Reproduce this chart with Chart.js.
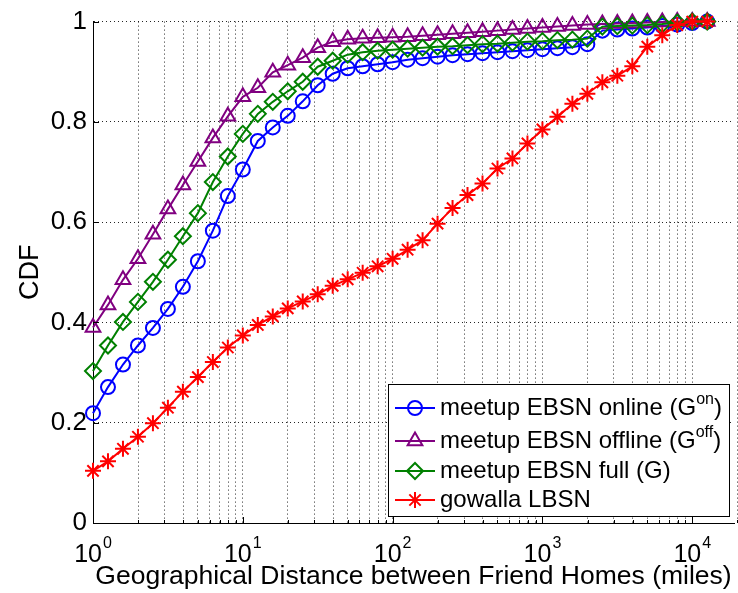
<!DOCTYPE html>
<html>
<head>
<meta charset="utf-8">
<script src="https://cdn.jsdelivr.net/npm/chart.js@4.4.0/dist/chart.umd.min.js"></script>
<style>
  body { margin: 0; background: #fff; }
  #wrap { width: 738px; height: 593px; }
</style>
</head>
<body>
<div id="wrap"><canvas id="cdfChart" width="738" height="593"></canvas></div>
<script>
// Distancias (millas) de cada marcador
const distances = [1, 1.259, 1.585, 1.995, 2.512, 3.162, 3.981, 5.012, 6.31, 7.943,
  10, 12.59, 15.85, 19.95, 25.12, 31.62, 39.81, 50.12, 63.1, 79.43,
  100, 125.9, 158.5, 199.5, 251.2, 316.2, 398.1, 501.2, 631, 794.3,
  1000, 1259, 1585, 1995, 2512, 3162, 3981, 5012, 6310, 7943, 10000, 12589];

// CDF de cada red
const onlineCdf = [0.219, 0.271, 0.316, 0.354, 0.389, 0.427, 0.471, 0.522, 0.583, 0.652,
  0.705, 0.762, 0.789, 0.812, 0.841, 0.873, 0.896, 0.907, 0.911, 0.915,
  0.919, 0.924, 0.927, 0.930, 0.933, 0.935, 0.937, 0.939, 0.941, 0.943,
  0.945, 0.947, 0.949, 0.955, 0.982, 0.984, 0.986, 0.988, 0.991, 0.994, 0.997, 1.0];
const offlineCdf = [0.39, 0.435, 0.485, 0.527, 0.576, 0.626, 0.674, 0.721, 0.768, 0.811,
  0.85, 0.868, 0.899, 0.913, 0.928, 0.948, 0.960, 0.965, 0.967, 0.968,
  0.969, 0.970, 0.972, 0.974, 0.976, 0.978, 0.980, 0.982, 0.984, 0.986,
  0.988, 0.990, 0.992, 0.994, 0.995, 0.996, 0.997, 0.998, 0.999, 1.0, 1.0, 1.0];
const fullCdf = [0.303, 0.354, 0.401, 0.441, 0.481, 0.525, 0.572, 0.618, 0.68, 0.731,
  0.776, 0.816, 0.84, 0.861, 0.88, 0.91, 0.922, 0.934, 0.939, 0.942,
  0.944, 0.946, 0.948, 0.950, 0.951, 0.953, 0.955, 0.956, 0.958, 0.960,
  0.961, 0.963, 0.964, 0.966, 0.990, 0.991, 0.992, 0.993, 0.995, 0.998, 1.0, 1.0];
const gowallaCdf = [0.104, 0.123, 0.148, 0.172, 0.199, 0.23, 0.262, 0.291, 0.321, 0.35,
  0.374, 0.395, 0.412, 0.428, 0.442, 0.456, 0.473, 0.486, 0.499, 0.512,
  0.527, 0.545, 0.564, 0.597, 0.628, 0.654, 0.677, 0.707, 0.727, 0.757,
  0.785, 0.81, 0.836, 0.856, 0.879, 0.892, 0.911, 0.95, 0.973, 0.993, 1.0, 1.0];

// Ejes
const yTicks = [0, 0.2, 0.4, 0.6, 0.8, 1];
const xDecades = [1, 10, 100, 1000, 10000];
const xExponents = ['0', '1', '2', '3', '4'];
const minorSteps = [1, 2, 3, 4, 5, 6, 7, 8, 9];

// Leyenda
const seriesNames = ['meetup EBSN online (G', 'meetup EBSN offline (G', 'meetup EBSN full (G)', 'gowalla LBSN'];
const seriesSups = ['on', 'off', '', ''];
const seriesTails = [')', ')', '', ''];

const FONT = "'Liberation Sans', Arial, Helvetica, sans-serif";
const colors = ['#0000ff', '#800080', '#008000', '#ff0000'];
const styles = ['circle', 'triangle', 'rectRot', 'star'];
const radii = [7, 8.5, 8, 8];

const toPoints = ys => ys.map((y, i) => ({ x: distances[i], y: y }));
const gridValues = [];
xDecades.forEach(d => minorSteps.forEach(m => gridValues.push(d * m)));

function makeDataset(i, values) {
    return {
        label: seriesNames[i],
        data: toPoints(values),
        borderColor: colors[i],
        backgroundColor: colors[i],
        borderWidth: 2,
        pointStyle: styles[i],
        pointRadius: radii[i],
        pointBorderWidth: 2,
        pointBorderColor: colors[i],
        pointBackgroundColor: 'rgba(0,0,0,0)',
        tension: 0,
        clip: false,
        order: 4 - i
    };
}

// Marcador para la leyenda
function drawMarker(ctx, style, cx, cy, r) {
    ctx.beginPath();
    if (style === 'circle') {
        ctx.arc(cx, cy, r, 0, Math.PI * 2);
    } else if (style === 'triangle') {
        ctx.moveTo(cx, cy - r);
        ctx.lineTo(cx + r * 0.866, cy + r / 2);
        ctx.lineTo(cx - r * 0.866, cy + r / 2);
        ctx.closePath();
    } else if (style === 'rectRot') {
        ctx.moveTo(cx - r, cy);
        ctx.lineTo(cx, cy - r);
        ctx.lineTo(cx + r, cy);
        ctx.lineTo(cx, cy + r);
        ctx.closePath();
    } else {
        for (let a = 0; a < 4; a++) {
            const ang = a * Math.PI / 4;
            ctx.moveTo(cx - Math.cos(ang) * r, cy - Math.sin(ang) * r);
            ctx.lineTo(cx + Math.cos(ang) * r, cy + Math.sin(ang) * r);
        }
    }
    ctx.stroke();
}

const cdfDecor = {
    id: 'cdfDecor',
    afterDraw(chart) {
        const { ctx, chartArea: ca, scales: { x, y } } = chart;
        ctx.save();

        // Marcas hacia dentro
        ctx.strokeStyle = '#000';
        ctx.lineWidth = 1;
        ctx.beginPath();
        gridValues.forEach(v => {
            const px = Math.round(x.getPixelForValue(v)) + 0.5;
            const len = xDecades.includes(v) ? 6 : 3;
            ctx.moveTo(px, ca.bottom);
            ctx.lineTo(px, ca.bottom - len);
        });
        yTicks.forEach(v => {
            const py = Math.round(y.getPixelForValue(v)) + 0.5;
            ctx.moveTo(ca.left, py);
            ctx.lineTo(ca.left + 6, py);
        });
        ctx.stroke();

        // Etiquetas 10^n
        ctx.fillStyle = '#000';
        ctx.textAlign = 'left';
        ctx.textBaseline = 'alphabetic';
        xDecades.forEach((v, i) => {
            const px = x.getPixelForValue(v);
            ctx.font = '25px ' + FONT;
            const w1 = ctx.measureText('10').width;
            ctx.font = '16px ' + FONT;
            const w2 = ctx.measureText(xExponents[i]).width;
            const left = px - (w1 + w2 + 1) / 2;
            ctx.font = '25px ' + FONT;
            ctx.fillText('10', left, ca.bottom + 39);
            ctx.font = '16px ' + FONT;
            ctx.fillText(xExponents[i], left + w1 + 1, ca.bottom + 25);
        });

        // Leyenda
        const bx = ca.right - 346, by = ca.bottom - 139, bw = 341, bh = 132;
        ctx.fillStyle = '#fff';
        ctx.fillRect(bx, by, bw, bh);
        ctx.strokeStyle = '#000';
        ctx.lineWidth = 1;
        ctx.strokeRect(bx + 0.5, by + 0.5, bw, bh);
        const baselines = [31, 64, 94, 123];
        seriesNames.forEach((name, i) => {
            const base = by + baselines[i];
            const ly = base - 7;
            ctx.strokeStyle = colors[i];
            ctx.lineWidth = 2;
            ctx.beginPath();
            ctx.moveTo(bx + 7, ly);
            ctx.lineTo(bx + 47, ly);
            ctx.stroke();
            drawMarker(ctx, styles[i], bx + 27, ly, radii[i]);

            ctx.fillStyle = '#000';
            ctx.font = '24px ' + FONT;
            let tx = bx + 52;
            ctx.fillText(name, tx, base);
            tx += ctx.measureText(name).width;
            if (seriesSups[i]) {
                ctx.font = '16px ' + FONT;
                ctx.fillText(seriesSups[i], tx, base - 11);
                tx += ctx.measureText(seriesSups[i]).width;
                ctx.font = '24px ' + FONT;
                ctx.fillText(seriesTails[i], tx, base);
            }
        });
        ctx.restore();
    }
};

const ctx = document.getElementById('cdfChart').getContext('2d');
const cdfChart = new Chart(ctx, {
    type: 'line',
    data: {
        datasets: [
            makeDataset(0, onlineCdf),
            makeDataset(1, offlineCdf),
            makeDataset(2, fullCdf),
            makeDataset(3, gowallaCdf)
        ]
    },
    options: {
        responsive: false,
        animation: false,
        layout: { autoPadding: false, padding: { top: 18, right: 4, left: 0, bottom: 0 } },
        plugins: {
            legend: { display: false },
            tooltip: { enabled: false }
        },
        scales: {
            x: {
                type: 'logarithmic',
                min: 1,
                max: 19000,
                afterBuildTicks: s => { s.ticks = gridValues.map(v => ({ value: v })); },
                afterFit: s => { s.height = 70; },
                ticks: { display: false },
                grid: { color: 'rgba(0,0,0,0.85)', lineWidth: 1, drawTicks: false },
                border: { display: true, color: '#000', width: 1, dash: [1, 3] },
                title: {
                    display: true,
                    text: 'Geographical Distance between Friend Homes (miles)',
                    color: '#000',
                    font: { family: FONT, size: 26.5 },
                    padding: { top: 0, bottom: 0 }
                }
            },
            y: {
                min: 0,
                max: 1,
                afterBuildTicks: s => { s.ticks = yTicks.map(v => ({ value: v })); },
                afterFit: s => { s.width = 93; },
                ticks: {
                    color: '#000',
                    font: { family: FONT, size: 26 },
                    padding: 6,
                    callback: v => String(v)
                },
                grid: { color: 'rgba(0,0,0,0.85)', lineWidth: 1, drawTicks: false },
                border: { display: true, color: '#000', width: 1, dash: [1, 3] },
                title: {
                    display: true,
                    text: 'CDF',
                    color: '#000',
                    font: { family: FONT, size: 27 },
                    padding: { top: 14, bottom: 0 }
                }
            }
        }
    },
    plugins: [cdfDecor]
});
</script>
</body>
</html>
